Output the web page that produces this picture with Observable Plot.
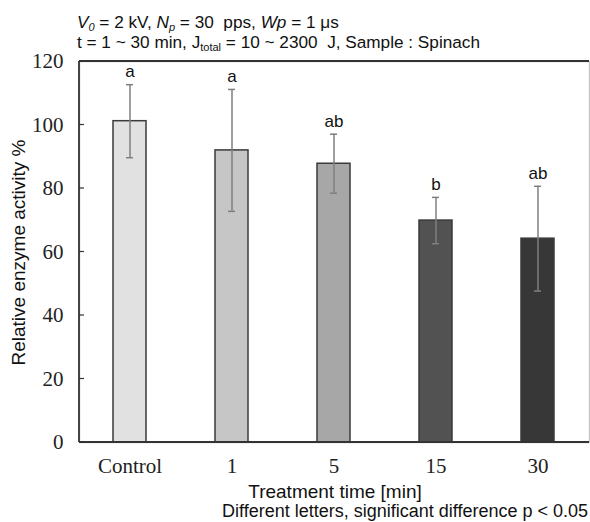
<!DOCTYPE html>
<html>
<head>
<meta charset="utf-8">
<script src="https://cdn.jsdelivr.net/npm/d3@7"></script>
<script src="https://cdn.jsdelivr.net/npm/@observablehq/plot@0.6"></script>
<style>
  html, body { margin: 0; padding: 0; background: #fff; }
  #chart { width: 590px; height: 522px; }
</style>
</head>
<body>
<div id="chart"></div>
<script>
const categories = ["Control", "1", "5", "15", "30"];
const means = [101.2, 92.0, 87.8, 69.9, 64.2];
const errors = [11.5, 19.2, 9.3, 7.3, 16.5];
const letters = ["a", "a", "ab", "b", "ab"];
const fills = ["#e1e1e1", "#c6c6c6", "#a7a7a7", "#525252", "#373737"];
const yTicks = [0, 20, 40, 60, 80, 100, 120];

const data = categories.map((c, i) => ({
  cat: c, mean: means[i], err: errors[i], letter: letters[i], fill: fills[i],
  lo: means[i] - errors[i], hi: means[i] + errors[i]
}));

const W = 590, H = 522;
const plot = Plot.plot({
  width: W,
  height: H,
  marginTop: 61,
  marginLeft: 79,
  marginRight: 1,
  marginBottom: 80,
  style: { background: "#fff", overflow: "visible" },
  x: { domain: categories, paddingInner: 0.676, paddingOuter: 0.338, label: null },
  y: { domain: [0, 120], label: null },
  marks: [
    Plot.frame({ stroke: "#c8c8c8", strokeWidth: 1.5 }),
    Plot.barY(data, { x: "cat", y: "mean", fill: "fill", stroke: "#3a3a3a", strokeWidth: 1.5 }),
    Plot.ruleX(data, { x: "cat", y1: "lo", y2: "hi", stroke: "#7f7f7f", strokeWidth: 1.5 }),
    Plot.tickY(data, { x: "cat", y: "lo", stroke: "#7f7f7f", strokeWidth: 1.5, insetLeft: 13, insetRight: 13 }),
    Plot.tickY(data, { x: "cat", y: "hi", stroke: "#7f7f7f", strokeWidth: 1.5, insetLeft: 13, insetRight: 13 }),
    Plot.text(data, { x: "cat", y: "hi", text: "letter", dy: -13, fontSize: 17, fill: "#111",
      fontFamily: "Liberation Sans, Arial, sans-serif", textAnchor: "middle" }),
    Plot.axisY({ ticks: yTicks, tickSize: 0, tickPadding: 16, fontSize: 21,
      fontFamily: "Liberation Serif, Times New Roman, serif", fill: "#222", label: null }),
    Plot.axisX({ tickSize: 0, tickPadding: 16, fontSize: 21,
      fontFamily: "Liberation Serif, Times New Roman, serif", fill: "#222", label: null })
  ]
});
document.getElementById("chart").appendChild(plot);

const svg = d3.select(plot);
const ys = plot.scale("y");
const x0 = 79, x1 = W - 1;
const yTop = ys.apply(120), yBot = ys.apply(0);

// dark frame lines (top, left, bottom)
const g = svg.append("g").attr("stroke", "#333").attr("stroke-width", 1.8);
g.append("line").attr("x1", x0).attr("x2", x1).attr("y1", yTop).attr("y2", yTop);
g.append("line").attr("x1", x0).attr("x2", x1).attr("y1", yBot).attr("y2", yBot);
g.append("line").attr("x1", x0).attr("x2", x0).attr("y1", yTop).attr("y2", yBot);
// inward ticks
yTicks.forEach(v => {
  const y = ys.apply(v);
  g.append("line").attr("x1", x0).attr("x2", x0 + 5).attr("y1", y).attr("y2", y).attr("stroke-width", 1.2);
});

const sans = "Liberation Sans, Arial, sans-serif";
// Title line 1
const t1 = svg.append("text").attr("x", 77).attr("y", 28).attr("text-anchor", "start")
  .attr("font-family", sans).attr("font-size", 17.2).attr("fill", "#111").style("white-space", "pre");
t1.append("tspan").attr("font-style", "italic").text("V");
t1.append("tspan").attr("font-style", "italic").attr("font-size", 11).attr("dy", 3).text("0");
t1.append("tspan").attr("dy", -3).text(" = 2 kV, ");
t1.append("tspan").attr("font-style", "italic").text("N");
t1.append("tspan").attr("font-style", "italic").attr("font-size", 11).attr("dy", 3).text("p");
t1.append("tspan").attr("dy", -3).text(" = 30  pps, ");
t1.append("tspan").attr("font-style", "italic").text("Wp");
t1.append("tspan").text(" = 1 μs");

// Title line 2
const t2 = svg.append("text").attr("x", 77).attr("y", 48).attr("text-anchor", "start")
  .attr("font-family", sans).attr("font-size", 17.2).attr("fill", "#111").style("white-space", "pre");
t2.append("tspan").text("t = 1 ~ 30 min, J");
t2.append("tspan").attr("font-size", 11).attr("dy", 3).text("total");
t2.append("tspan").attr("dy", -3).text(" = 10 ~ 2300  J, Sample : Spinach");

// Y axis label
svg.append("text")
  .attr("transform", `translate(20, ${(yTop + yBot) / 2 + 1}) rotate(-90)`)
  .attr("text-anchor", "middle").attr("dominant-baseline", "middle")
  .attr("font-family", sans).attr("font-size", 19).attr("fill", "#111")
  .text("Relative enzyme activity %");

// X axis label
svg.append("text").attr("x", 335).attr("y", 498).attr("text-anchor", "middle")
  .attr("font-family", sans).attr("font-size", 19).attr("fill", "#111")
  .text("Treatment time [min]");

// Footnote
svg.append("text").attr("x", 588).attr("y", 517).attr("text-anchor", "end")
  .attr("font-family", sans).attr("font-size", 18).attr("fill", "#111")
  .text("Different letters, significant difference p < 0.05");
</script>
</body>
</html>
